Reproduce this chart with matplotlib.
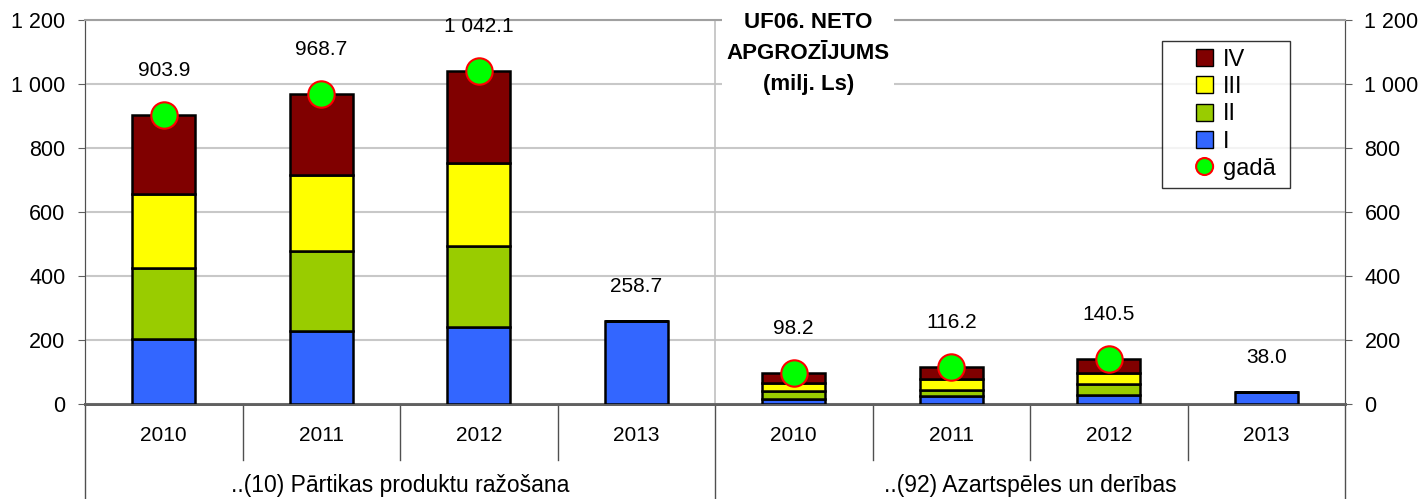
import numpy as np
import matplotlib
matplotlib.use('Agg')
import matplotlib.pyplot as plt
from matplotlib.patches import Patch, Rectangle, Ellipse
from matplotlib.lines import Line2D
from matplotlib.legend_handler import HandlerPatch
from matplotlib.ticker import FuncFormatter

plt.rcParams['font.family'] = ['Liberation Sans', 'DejaVu Sans']

# data
years = ['2010', '2011', '2012', '2013', '2010', '2011', '2012', '2013']
groups = ['..(10) Pārtikas produktu ražošana', '..(92) Azartspēles un derības']
q1 = [203.0, 229.0, 240.0, 258.7, 17.0, 24.0, 29.0, 38.0]
q2 = [223.0, 248.0, 254.0, 0, 25.0, 21.0, 35.0, 0]
q3 = [231.0, 239.0, 258.0, 0, 25.0, 34.0, 33.0, 0]
q4 = [246.9, 252.7, 290.1, 0, 31.2, 37.2, 43.5, 0]
totals = [903.9, 968.7, 1042.1, 258.7, 98.2, 116.2, 140.5, 38.0]
has_year = [True, True, True, False, True, True, True, False]

colors = {'I': '#3366FF', 'II': '#99CC00', 'III': '#FFFF00', 'IV': '#800000'}

fig = plt.figure(figsize=(14.28, 4.99), dpi=100)
ax = fig.add_axes([85/1428, 1 - 404/499, 1260/1428, 384/499])

# right-hand axis first, so the main axes (and its title box) draws on top
ax2 = ax.twinx()
ax2.set_ylim(0, 1200)
ax2.set_yticks(np.arange(0, 1201, 200))
ax.set_zorder(ax2.get_zorder() + 1)
ax.patch.set_visible(False)

x = np.arange(len(years))
w = 0.40
bottom = np.zeros(len(x))
for name, vals in [('I', q1), ('II', q2), ('III', q3), ('IV', q4)]:
    vals = np.array(vals)
    ax.bar(x, vals, w, bottom=bottom, color=colors[name], edgecolor='black',
           linewidth=1.8, zorder=3)
    bottom += vals

# yearly totals as markers
xm = [xi for xi, h in zip(x, has_year) if h]
ym = [t for t, h in zip(totals, has_year) if h]
ax.plot(xm, ym, 'o', markersize=19, markerfacecolor='#00FF00',
        markeredgecolor='red', markeredgewidth=1.5, linestyle='None', zorder=4)

for xi, t, h in zip(x, totals, has_year):
    lab = f'{t:,.1f}'.replace(',', ' ')
    ax.annotate(lab, (xi, t), xytext=(0, 32 if h else 25), textcoords='offset points',
                ha='center', va='center', fontsize=15, zorder=7)

ax.set_xlim(-0.5, 7.5)
ax.set_ylim(0, 1200)
ax.set_yticks(np.arange(0, 1201, 200))
fmt = FuncFormatter(lambda v, p: f'{int(v):,}'.replace(',', ' '))
ax.yaxis.set_major_formatter(fmt)
ax2.yaxis.set_major_formatter(fmt)
ax.yaxis.grid(True, color='#c8c8c8', linewidth=1.5, zorder=0)
ax.set_axisbelow(True)
ax.tick_params(axis='y', labelsize=15.5, direction='out', length=5, pad=9, color='#606060')
ax2.tick_params(axis='y', labelsize=15.5, direction='out', length=5, pad=9, color='#606060')
ax.set_xticks([])

ax2.spines['top'].set_visible(False)
ax.spines['top'].set_color('#a0a0a0')
ax.spines['top'].set_linewidth(1.5)
for a in (ax, ax2):
    a.spines['left'].set_color('#505050')
    a.spines['right'].set_color('#505050')
    a.spines['bottom'].set_color('#606060')
    a.spines['bottom'].set_linewidth(2)

# group separator inside plot
ax.axvline(3.5, color='#c0c0c0', linewidth=1.2, zorder=1)

# multi-level category axis below
tr = ax.get_xaxis_transform()
for b in [0.5, 1.5, 2.5, 4.5, 5.5, 6.5]:
    ax.add_line(Line2D([b, b], [0, -0.146], transform=tr, color='#505050',
                       linewidth=1, clip_on=False))
for b in [-0.5, 3.5, 7.5]:
    ax.add_line(Line2D([b, b], [0, -0.26], transform=tr, color='#505050',
                       linewidth=1, clip_on=False))
for xi, yr in zip(x, years):
    ax.text(xi, -0.083, yr, transform=tr, ha='center', va='center', fontsize=15)
ax.text(1.5, -0.213, groups[0], transform=tr, ha='center', va='center', fontsize=16.5)
ax.text(5.5, -0.213, groups[1], transform=tr, ha='center', va='center', fontsize=16.5)

# title
ax.text(0.574, 1.02, 'UF06. NETO\nAPGROZĪJUMS\n(milj. Ls)', transform=ax.transAxes,
        ha='center', va='top', fontsize=16, fontweight='bold', linespacing=1.62,
        bbox=dict(facecolor='white', edgecolor='none', pad=3), zorder=6)


# legend: small squares / circle placed at right end of a wider handle box
def square(legend, orig_handle, xdescent, ydescent, width, height, fontsize):
    s = 0.72 * fontsize
    return Rectangle((width - xdescent - s, -ydescent + (height - s) / 2), s, s)


def circle(legend, orig_handle, xdescent, ydescent, width, height, fontsize):
    s = 0.72 * fontsize
    return Ellipse((width - xdescent - s / 2, -ydescent + height / 2), s, s)


handles = [Patch(facecolor=colors['IV'], edgecolor='black', label='IV'),
           Patch(facecolor=colors['III'], edgecolor='black', label='III'),
           Patch(facecolor=colors['II'], edgecolor='black', label='II'),
           Patch(facecolor=colors['I'], edgecolor='black', label='I'),
           Patch(facecolor='#00FF00', edgecolor='red', linewidth=1.5, label='gadā ')]
hmap = {h: HandlerPatch(patch_func=square) for h in handles[:4]}
hmap[handles[4]] = HandlerPatch(patch_func=circle)
leg = ax.legend(handles=handles, handler_map=hmap, loc='upper right',
                bbox_to_anchor=(0.9565, 0.946),
                fontsize=17, frameon=True, fancybox=False, edgecolor='black',
                handlelength=1.8, handleheight=0.7, handletextpad=0.4,
                labelspacing=0.22, borderpad=0.35, borderaxespad=0)
leg.get_frame().set_linewidth(1)
leg.set_zorder(8)

fig.savefig('out.png', dpi=100)
